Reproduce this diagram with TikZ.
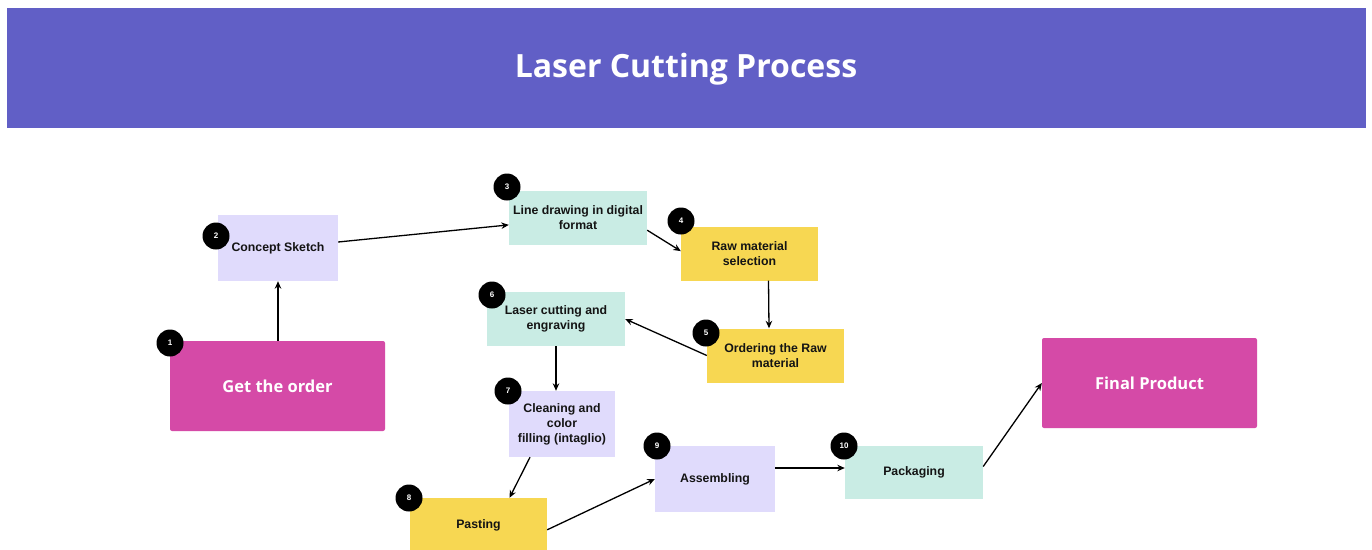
\documentclass[tikz,border=0pt]{standalone}
\usepackage{fontspec}
\setmainfont{Liberation Sans}
\newfontfamily\headfont{Open Sans}
\usepackage{tikz}
\usetikzlibrary{arrows.meta}

\definecolor{banner}{HTML}{615FC6}
\definecolor{berry}{HTML}{D54AA7}
\definecolor{lilac}{HTML}{E0DBFC}
\definecolor{mint}{HTML}{C9ECE4}
\definecolor{butter}{HTML}{F7D752}
\definecolor{ink}{HTML}{141414}

\tikzset{
    x=1pt, y=-1pt, % Work in pixel-like units, y grows downwards
    stepbox/.style={ % Sets the properties for each process step
        fill=#1,
        inner sep=0pt,
        align=center,
        text=ink,
        font=\fontsize{12.3}{15}\selectfont\bfseries
    },
    endbox/.style={ % Start and end of the process
        fill=berry,
        rounded corners=2pt,
        inner sep=0pt,
        text=white,
        font=\headfont\fontsize{16.5}{19}\selectfont\bfseries
    },
    badge/.style={ % Numbered black circles
        circle,
        fill=black,
        minimum size=27pt,
        inner sep=0pt,
        text=white,
        font=\fontsize{8}{9}\selectfont\bfseries
    },
    flow/.style={ % Every connector
        draw=black,
        line width=1.3pt,
        -{Stealth[length=7.5pt,width=6.5pt]}
    }
}

\begin{document}
\begin{tikzpicture}
    \useasboundingbox (0,0) rectangle (1372,549);
    \fill[white] (0,0) rectangle (1372,549);

    % title bar
    \fill[banner] (7,8) rectangle (1366,128);
    \node[text=white, font=\headfont\fontsize{32}{36}\selectfont\bfseries] (title) at (686,69) {Laser Cutting Process};

    % steps
    \node[endbox, minimum width=215pt, minimum height=90pt] (order) at (277.5,386) {Get the order};
    \node[stepbox=lilac, minimum width=120pt, minimum height=66pt] (sketch) at (278,248) {Concept Sketch};
    \node[stepbox=mint, minimum width=138pt, minimum height=54pt] (digital) at (578,218) {Line drawing in digital\\format};
    \node[stepbox=butter, minimum width=137pt, minimum height=54pt] (select) at (749.5,253.5) {Raw material\\selection};
    \node[stepbox=butter, minimum width=137pt, minimum height=54pt] (buy) at (775.5,355.5) {Ordering the Raw\\material};
    \node[stepbox=mint, minimum width=138pt, minimum height=54pt] (cut) at (556,319) {Laser cutting and\\engraving};
    \node[stepbox=lilac, minimum width=106pt, minimum height=66pt] (clean) at (562,424) {Cleaning and\\color\\filling (intaglio)};
    \node[stepbox=butter, minimum width=137pt, minimum height=54pt] (paste) at (478.5,525) {Pasting};
    \node[stepbox=lilac, minimum width=120pt, minimum height=66pt] (assemble) at (715,479) {Assembling};
    \node[stepbox=mint, minimum width=138pt, minimum height=53pt] (pack) at (914,472.5) {Packaging};
    \node[endbox, minimum width=215pt, minimum height=90pt] (product) at (1149.5,383) {Final Product};

    % step numbers
    \node[badge] (b1) at (170,343) {1};
    \node[badge] (b2) at (216,236) {2};
    \node[badge] (b3) at (507,187) {3};
    \node[badge] (b4) at (681,221) {4};
    \node[badge] (b5) at (706,333) {5};
    \node[badge] (b6) at (492,295) {6};
    \node[badge] (b7) at (508,391) {7};
    \node[badge] (b8) at (409,498) {8};
    \node[badge] (b9) at (657,446) {9};
    \node[badge] (b10) at (844,446) {10};

    % connectors
    \draw[flow] (sketch.south |- order.north) -- (sketch.south);
    \draw[flow] (sketch) -- (digital);
    \draw[flow] (digital.-10) -- (select.178);
    \draw[flow] ([xshift=19pt]select.south) -- ([xshift=-6.5pt]buy.north);
    \draw[flow] (buy.west) -- (cut.east);
    \draw[flow] (cut.south) -- (cut.south |- clean.north);
    \draw[flow] ([xshift=-32pt]clean.south) -- ([xshift=31pt]paste.north);
    \draw[flow] (paste.-4) -- (assemble.west);
    \draw[flow] ([yshift=11pt]assemble.east) -- ([yshift=11pt]assemble.east -| pack.west);
    \draw[flow] ([yshift=6pt]pack.east) -- (product.west);
\end{tikzpicture}
\end{document}
